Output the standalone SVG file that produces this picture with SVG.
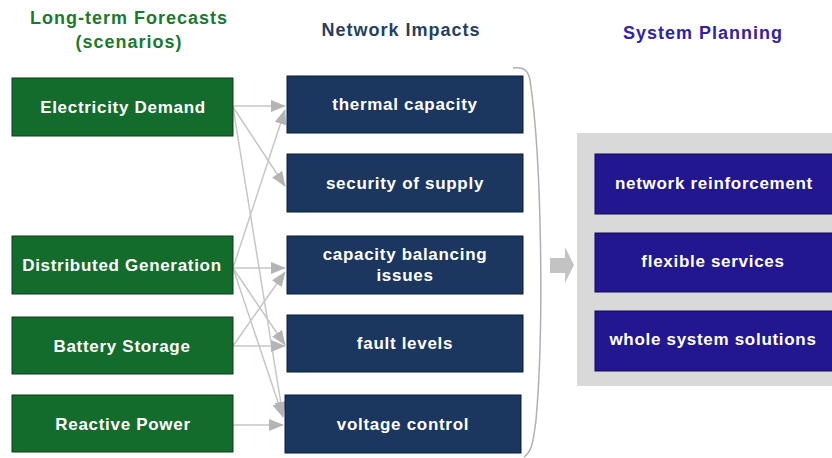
<svg xmlns="http://www.w3.org/2000/svg" width="832" height="458" viewBox="0 0 832 458">
<defs>
<style>
text{font-family:"Liberation Sans",Arial,sans-serif;font-weight:bold}
.bt{fill:#ffffff;font-size:17px;letter-spacing:0.7px;text-anchor:middle}
.g rect{fill:#136b2c;stroke:#0b3f19;stroke-width:1}
.m rect{fill:#1b365f;stroke:#0d1d36;stroke-width:1}
.p rect{fill:#22178f;stroke:#120b55;stroke-width:1}
.c line{stroke:#c6c6c6;stroke-width:1.5;fill:none}
.h{font-size:18px;letter-spacing:1px;text-anchor:middle}
</style>
<marker id="ah2" viewBox="0 0 10 8" refX="9.5" refY="4" markerWidth="15" markerHeight="12" markerUnits="userSpaceOnUse" orient="auto">
<path d="M0,0 L10,4 L0,8 z" fill="#b4b4b4"/>
</marker>
</defs>
<rect width="832" height="458" fill="#ffffff"/>
<text class="h" x="129" y="24" fill="#1b7a2e">Long-term Forecasts</text>
<text class="h" x="129" y="48" fill="#1b7a2e">(scenarios)</text>
<text class="h" x="401" y="36" fill="#253f61">Network Impacts</text>
<text class="h" x="703" y="39" fill="#3322a6">System Planning</text>

<g id="connectors" class="c">
<line x1="233" y1="106" x2="285" y2="106" marker-end="url(#ah2)"/>
<line x1="233" y1="107" x2="285" y2="186" marker-end="url(#ah2)"/>
<line x1="233" y1="107" x2="283" y2="416" marker-end="url(#ah2)"/>
<line x1="233" y1="268" x2="285" y2="110" marker-end="url(#ah2)"/>
<line x1="233" y1="268" x2="285" y2="268" marker-end="url(#ah2)"/>
<line x1="233" y1="268" x2="285" y2="345" marker-end="url(#ah2)"/>
<line x1="233" y1="268" x2="283" y2="417" marker-end="url(#ah2)"/>
<line x1="233" y1="346" x2="285" y2="272" marker-end="url(#ah2)"/>
<line x1="233" y1="346" x2="285" y2="346" marker-end="url(#ah2)"/>
<line x1="233" y1="425" x2="283" y2="425" marker-end="url(#ah2)"/>
</g>

<g id="electricity-demand" class="g"><rect x="12" y="78" width="221" height="58"/><text class="bt" x="123" y="113">Electricity Demand</text></g>
<g id="distributed-generation" class="g"><rect x="12" y="236" width="221" height="58"/><text class="bt" x="122" y="271">Distributed Generation</text></g>
<g id="battery-storage" class="g"><rect x="12" y="317" width="221" height="57"/><text class="bt" x="122" y="352">Battery Storage</text></g>
<g id="reactive-power" class="g"><rect x="12" y="395" width="221" height="57"/><text class="bt" x="123" y="430">Reactive Power</text></g>

<g id="thermal-capacity" class="m"><rect x="287" y="76" width="236" height="57"/><text class="bt" x="405" y="110">thermal capacity</text></g>
<g id="security-of-supply" class="m"><rect x="287" y="154" width="236" height="58"/><text class="bt" x="405" y="189">security of supply</text></g>
<g id="capacity-balancing" class="m"><rect x="287" y="236" width="236" height="58"/><text class="bt" x="405" y="260">capacity balancing</text><text class="bt" x="405" y="281">issues</text></g>
<g id="fault-levels" class="m"><rect x="287" y="315" width="236" height="57"/><text class="bt" x="405" y="349">fault levels</text></g>
<g id="voltage-control" class="m"><rect x="285" y="395" width="236" height="58"/><text class="bt" x="403" y="430">voltage control</text></g>

<g id="brace"><path d="M513,68 C524,67 528,70 530,80 C542,160 544,330 536,420 C533,445 531,452 524,457" fill="none" stroke="#b0b0b0" stroke-width="1.5"/></g>
<g id="big-arrow"><path d="M550,258 L565,258 L565,247 L574,265 L565,283 L565,273 L550,273 z" fill="#c3c3c3"/></g>

<g id="system-planning-panel"><rect x="577" y="133" width="260" height="253" fill="#d9d9d9"/></g>
<g id="network-reinforcement" class="p"><rect x="595" y="154" width="240" height="60"/><text class="bt" x="714" y="189">network reinforcement</text></g>
<g id="flexible-services" class="p"><rect x="595" y="233" width="240" height="59"/><text class="bt" x="713" y="267">flexible services</text></g>
<g id="whole-system-solutions" class="p"><rect x="595" y="311" width="240" height="60"/><text class="bt" x="713" y="345">whole system solutions</text></g>
</svg>
